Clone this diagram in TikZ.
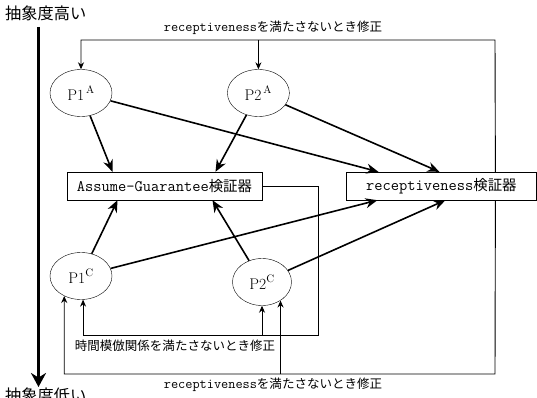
\documentclass[tikz,border=0pt]{standalone}
\usepackage{fontspec}
\newfontfamily\jpfont[Scale=0.9]{Noto Sans CJK JP}
\newcommand\jp[1]{{\jpfont #1}}
\usetikzlibrary{arrows.meta, positioning, shapes.geometric}

\begin{document}
\begin{tikzpicture}[x=1pt, y=-1pt,
    proc/.style={draw, ellipse, minimum width=62pt, minimum height=47pt,
      inner sep=0pt, font=\fontsize{15.5}{17}\selectfont},
    checker/.style={draw, minimum height=28pt, inner sep=0pt,
      font=\fontsize{16}{18}\selectfont\ttfamily},
    note/.style={inner sep=0pt, font=\fontsize{13.9}{16}\selectfont\ttfamily},
    level/.style={inner sep=0pt, font=\fontsize{18}{20}\selectfont\jpfont},
    arr/.style={-{Stealth[length=12pt, width=10pt]}, line width=1.6pt},
    fb/.style={-{Stealth[length=7pt, width=6pt]}, line width=0.9pt},
    levelarr/.style={-{Stealth[length=14pt, width=15pt]}, line width=3pt}
  ]
  \useasboundingbox (0,0) rectangle (537,398);

  \node[level, anchor=west] (hi) at (5,13) {抽象度高い};
  \node[level, anchor=north west] (lo) at (5,388) {抽象度低い};
  \coordinate (axtop) at (38.5,27);
  \coordinate (axbot) at (38.5,387);
  \draw[levelarr] (axtop) -- (axbot);

  \node[proc] (p1a) at (81,93) {$\mathrm{P1}^{\,\mathrm{A}}$};
  \node[proc, right=115pt of p1a] (p2a) {$\mathrm{P2}^{\,\mathrm{A}}$};
  \node[checker, minimum width=195pt] (ag) at (164.5,186) {Assume-Guarantee\jp{検証器}};
  \node[checker, minimum width=190pt, right=84pt of ag] (rec) {receptiveness\jp{検証器}};
  \node[proc] (p1c) at (81,276) {$\mathrm{P1}^{\mathrm{C}}$};
  \node[proc, minimum width=59pt] (p2c) at (262,282) {$\mathrm{P2}^{\mathrm{C}}$};

  \draw[arr] (p1a) -- ([xshift=-52pt]ag.north);
  \draw[arr] (p2a) -- ([xshift=51pt]ag.north);
  \draw[arr] (p1a) -- ([xshift=-63pt]rec.north);
  \draw[arr] (p2a) -- ([xshift=-2pt]rec.north);
  \draw[arr] (p1c) -- ([xshift=-47pt]ag.south);
  \draw[arr] (p2c) -- ([xshift=48pt]ag.south);
  \draw[arr] (p1c) -- ([xshift=-64pt]rec.south);
  \draw[arr] (p2c) -- ([xshift=4pt]rec.south);

  \coordinate (topbr) at (495,40);
  \draw[fb] ([xshift=54pt]rec.north) -- (topbr) -| (p1a.north);
  \draw[fb] (p2a.north |- topbr) -- (p2a.north);
  \node[note] (toplbl) at (273,28) {receptiveness\jp{を満たさないとき修正}};

  \coordinate (simbr) at (318,335);
  \draw[fb] (ag.east) -| (simbr) -| (p1c.275);
  \draw[fb] (p2c.south |- simbr) -- (p2c.south);
  \node[note] (simlbl) at (175,346) {\jp{時間模倣関係を満たさないとき修正}};

  \coordinate (recbr) at (495,374);
  \draw[fb] ([xshift=54pt]rec.south) -- (recbr) -| (p1c.230);
  \draw[fb] (p2c.315 |- recbr) -- (p2c.315);
  \node[note] (botlbl) at (273,385) {receptiveness\jp{を満たさないとき修正}};
\end{tikzpicture}
\end{document}
